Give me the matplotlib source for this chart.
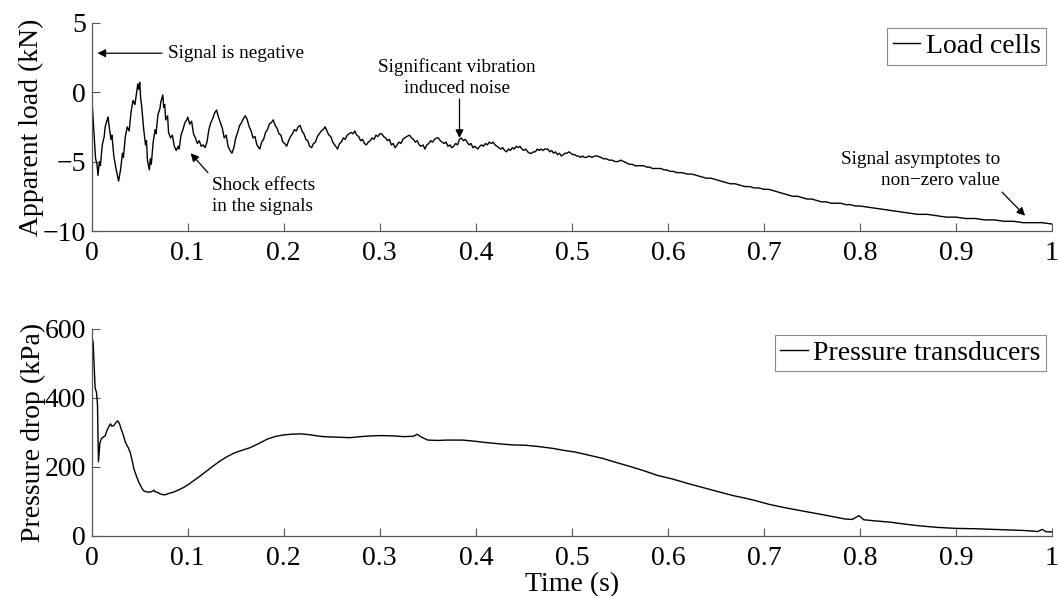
import matplotlib
matplotlib.use("Agg")
import matplotlib.pyplot as plt

plt.rcParams['font.family'] = ['Liberation Serif', 'DejaVu Serif']

# load cell trace, (time s, apparent load kN)
load_trace = [
    (0.000, -0.3), (0.002, -2.5), (0.004, -4.8), (0.0055, -5.2), (0.0065, -6.0), (0.008, -5.0),
    (0.009, -5.3), (0.011, -3.8), (0.013, -3.2), (0.014, -2.5), (0.016, -2.0), (0.017, -1.8),
    (0.018, -2.4), (0.020, -3.4), (0.021, -3.1), (0.023, -4.6), (0.025, -5.4), (0.027, -6.1),
    (0.028, -6.4), (0.030, -5.6), (0.032, -4.4), (0.033, -4.7), (0.035, -3.2), (0.037, -2.5),
    (0.039, -2.8), (0.041, -1.4), (0.043, -0.6), (0.045, -0.9), (0.047, 0.1), (0.048, 0.6),
    (0.049, 0.2), (0.050, 0.7), (0.051, -0.5), (0.052, -1.0), (0.054, -2.6), (0.056, -3.8),
    (0.057, -3.5), (0.058, -4.9), (0.060, -5.6), (0.061, -4.8), (0.062, -5.2), (0.064, -3.6),
    (0.066, -2.7), (0.067, -3.0), (0.069, -1.6), (0.071, -1.2), (0.072, -0.7), (0.074, -0.2),
    (0.075, -1.1), (0.076, -0.9), (0.077, -2.0), (0.079, -1.7), (0.080, -2.9), (0.082, -3.3),
    (0.084, -3.1), (0.086, -3.9), (0.088, -4.2), (0.090, -3.9), (0.091, -4.1), (0.093, -3.1),
    (0.095, -2.7), (0.097, -2.2), (0.099, -2.0), (0.100, -1.8), (0.102, -2.3), (0.104, -2.1),
    (0.106, -3.0), (0.108, -3.3), (0.110, -3.7), (0.112, -3.5), (0.114, -3.9), (0.116, -3.8),
    (0.118, -4.0), (0.120, -3.6), (0.122, -2.7), (0.124, -2.2), (0.126, -1.9), (0.128, -1.5),
    (0.130, -1.3), (0.132, -1.8), (0.134, -2.2), (0.136, -2.6), (0.138, -3.3), (0.140, -3.1),
    (0.142, -3.9), (0.144, -4.2), (0.146, -4.4), (0.148, -4.0), (0.150, -3.3), (0.152, -2.9),
    (0.154, -2.4), (0.156, -2.2), (0.158, -1.9), (0.160, -1.7), (0.162, -2.0), (0.164, -2.5),
    (0.166, -2.8), (0.168, -3.3), (0.170, -3.2), (0.172, -3.8), (0.174, -4.0), (0.175, -4.1),
    (0.177, -3.6), (0.179, -3.4), (0.181, -2.9), (0.183, -2.7), (0.185, -2.3), (0.187, -2.2),
    (0.189, -2.0), (0.191, -2.4), (0.193, -2.6), (0.195, -3.0), (0.197, -3.1), (0.199, -3.6),
    (0.201, -3.7), (0.203, -3.9), (0.205, -3.5), (0.207, -3.2), (0.209, -3.0), (0.211, -2.7),
    (0.213, -2.8), (0.215, -2.5), (0.217, -2.4), (0.219, -2.8), (0.221, -3.0), (0.223, -3.4),
    (0.225, -3.5), (0.227, -3.9), (0.229, -4.0), (0.231, -3.7), (0.233, -3.6), (0.235, -3.2),
    (0.237, -3.0), (0.239, -2.8), (0.241, -2.7), (0.243, -2.5), (0.245, -2.8), (0.247, -3.1),
    (0.249, -3.2), (0.251, -3.6), (0.253, -3.8), (0.256, -4.1), (0.258, -3.7), (0.260, -3.6),
    (0.262, -3.3), (0.264, -3.4), (0.266, -3.1), (0.268, -3.0), (0.270, -2.9), (0.272, -3.0),
    (0.274, -2.8), (0.276, -3.1), (0.278, -3.2), (0.280, -3.5), (0.282, -3.4), (0.284, -3.7),
    (0.286, -3.8), (0.288, -3.6), (0.290, -3.5), (0.292, -3.3), (0.294, -3.4), (0.296, -3.1),
    (0.298, -3.2), (0.300, -3.0), (0.302, -3.0), (0.304, -3.2), (0.306, -3.3), (0.308, -3.5),
    (0.310, -3.4), (0.312, -3.8), (0.314, -3.7), (0.316, -4.0), (0.318, -3.8), (0.320, -3.6),
    (0.322, -3.7), (0.324, -3.4), (0.326, -3.3), (0.328, -3.2), (0.331, -3.1), (0.333, -3.3),
    (0.335, -3.4), (0.337, -3.6), (0.339, -3.5), (0.341, -3.8), (0.343, -3.9), (0.345, -3.8),
    (0.347, -4.1), (0.349, -3.8), (0.351, -3.7), (0.353, -3.5), (0.355, -3.6), (0.357, -3.4),
    (0.359, -3.3), (0.361, -3.3), (0.363, -3.5), (0.365, -3.6), (0.367, -3.7), (0.369, -3.6),
    (0.371, -3.9), (0.373, -3.8), (0.375, -4.0), (0.377, -3.9), (0.379, -3.7), (0.381, -3.8),
    (0.383, -3.4), (0.385, -3.3), (0.387, -3.5), (0.389, -3.4), (0.391, -3.6), (0.393, -3.8),
    (0.395, -3.7), (0.397, -4.0), (0.399, -3.9), (0.402, -4.1), (0.404, -3.9), (0.406, -3.8),
    (0.408, -3.9), (0.410, -3.7), (0.412, -3.8), (0.414, -3.6), (0.416, -3.7), (0.418, -3.6),
    (0.420, -3.8), (0.422, -3.9), (0.424, -4.0), (0.426, -4.1), (0.428, -4.0), (0.430, -4.2),
    (0.432, -4.3), (0.434, -4.1), (0.436, -4.2), (0.438, -4.0), (0.440, -4.1), (0.442, -3.9),
    (0.444, -4.0), (0.446, -3.9), (0.448, -4.1), (0.450, -4.2), (0.452, -4.1), (0.454, -4.3),
    (0.456, -4.4), (0.458, -4.4), (0.460, -4.3), (0.462, -4.3), (0.464, -4.1), (0.466, -4.2),
    (0.468, -4.1), (0.470, -4.2), (0.472, -4.1), (0.475, -4.1), (0.477, -4.3), (0.479, -4.2),
    (0.481, -4.4), (0.483, -4.3), (0.485, -4.5), (0.487, -4.4), (0.489, -4.6), (0.491, -4.5),
    (0.493, -4.4), (0.495, -4.4), (0.497, -4.3), (0.499, -4.4), (0.501, -4.5), (0.503, -4.5),
    (0.505, -4.6), (0.507, -4.6), (0.509, -4.7), (0.511, -4.6), (0.513, -4.7), (0.515, -4.7),
    (0.518, -4.6), (0.521, -4.7), (0.524, -4.6), (0.527, -4.6), (0.530, -4.7), (0.533, -4.8),
    (0.536, -4.8), (0.539, -4.9), (0.542, -4.9), (0.545, -5.0), (0.548, -5.0), (0.551, -4.9),
    (0.554, -5.0), (0.557, -5.1), (0.560, -5.2), (0.563, -5.2), (0.566, -5.3), (0.569, -5.3),
    (0.572, -5.3), (0.575, -5.3), (0.578, -5.4), (0.581, -5.4), (0.584, -5.5), (0.587, -5.5),
    (0.590, -5.5), (0.593, -5.5), (0.596, -5.6), (0.599, -5.6), (0.602, -5.7), (0.605, -5.7),
    (0.610, -5.8), (0.615, -5.8), (0.620, -5.9), (0.625, -5.9), (0.630, -6.0), (0.635, -6.1),
    (0.640, -6.2), (0.645, -6.2), (0.650, -6.3), (0.655, -6.4), (0.660, -6.5), (0.665, -6.6),
    (0.670, -6.6), (0.675, -6.7), (0.680, -6.8), (0.685, -6.8), (0.690, -6.9), (0.695, -6.9),
    (0.700, -7.0), (0.705, -7.0), (0.710, -7.1), (0.715, -7.2), (0.720, -7.3), (0.725, -7.4),
    (0.730, -7.5), (0.735, -7.5), (0.740, -7.6), (0.745, -7.7), (0.750, -7.7), (0.755, -7.8),
    (0.760, -7.9), (0.765, -7.9), (0.770, -8.0), (0.775, -8.0), (0.780, -8.0), (0.785, -8.1),
    (0.790, -8.1), (0.795, -8.2), (0.800, -8.2), (0.810, -8.3), (0.820, -8.4), (0.830, -8.5),
    (0.840, -8.6), (0.850, -8.7), (0.860, -8.8), (0.870, -8.8), (0.880, -8.9), (0.890, -9.0),
    (0.900, -9.0), (0.910, -9.1), (0.920, -9.1), (0.930, -9.2), (0.940, -9.2), (0.950, -9.3),
    (0.960, -9.3), (0.970, -9.4), (0.980, -9.4), (0.990, -9.4), (1.000, -9.5),
]

# pressure transducer trace, (time s, pressure drop kPa)
pressure_trace = [
    (0.000, 580), (0.0015, 560), (0.0035, 430), (0.005, 415), (0.006, 380), (0.007, 215),
    (0.0085, 270), (0.010, 282), (0.012, 287), (0.014, 290), (0.016, 307), (0.018, 318),
    (0.0195, 325), (0.021, 318), (0.023, 320), (0.025, 328), (0.027, 334), (0.029, 325),
    (0.030, 315), (0.033, 292), (0.035, 272), (0.038, 256), (0.040, 243), (0.042, 220),
    (0.044, 194), (0.047, 170), (0.049, 156), (0.052, 140), (0.054, 131), (0.057, 128),
    (0.059, 127), (0.062, 128), (0.064, 131), (0.065, 133), (0.066, 128), (0.069, 126),
    (0.071, 122), (0.074, 120), (0.076, 119), (0.080, 123), (0.085, 127), (0.090, 133),
    (0.096, 141), (0.101, 150), (0.106, 160), (0.113, 174), (0.120, 189), (0.127, 204),
    (0.134, 218), (0.141, 230), (0.148, 240), (0.155, 247), (0.165, 256), (0.174, 268),
    (0.183, 281), (0.192, 289), (0.200, 293), (0.208, 295), (0.217, 296), (0.222, 295),
    (0.228, 293), (0.235, 290), (0.241, 288), (0.250, 287), (0.260, 286), (0.269, 285),
    (0.280, 288), (0.290, 290), (0.302, 291), (0.315, 290), (0.325, 288), (0.335, 289),
    (0.339, 295), (0.343, 287), (0.350, 278), (0.360, 277), (0.370, 278), (0.386, 278),
    (0.398, 275), (0.410, 271), (0.425, 267), (0.438, 264), (0.452, 263), (0.466, 259),
    (0.480, 254), (0.492, 248), (0.504, 243), (0.518, 234), (0.532, 225), (0.545, 214),
    (0.560, 202), (0.574, 190), (0.590, 175), (0.605, 165), (0.621, 152), (0.637, 140),
    (0.653, 128), (0.668, 117), (0.680, 110), (0.692, 102), (0.705, 92), (0.720, 83),
    (0.739, 73), (0.755, 65), (0.770, 57), (0.785, 49), (0.792, 48), (0.799, 59),
    (0.804, 47), (0.815, 44), (0.832, 40), (0.845, 35), (0.860, 30), (0.880, 25),
    (0.900, 22), (0.920, 21), (0.950, 18), (0.970, 16), (0.985, 13), (0.990, 19),
    (0.994, 12), (1.000, 12),
]

x_ticks = [0, 0.1, 0.2, 0.3, 0.4, 0.5, 0.6, 0.7, 0.8, 0.9, 1]
x_tick_labels = ["0", "0.1", "0.2", "0.3", "0.4", "0.5", "0.6", "0.7", "0.8", "0.9", "1"]
load_ticks = [-10, -5, 0, 5]
pressure_ticks = [0, 200, 400, 600]

load_t = [p[0] for p in load_trace]
load_kn = [p[1] for p in load_trace]
press_t = [p[0] for p in pressure_trace]
press_kpa = [p[1] for p in pressure_trace]

fig = plt.figure(figsize=(10.58, 5.96), dpi=100)
ax1 = fig.add_axes([0.0867, 0.6124, 0.9076, 0.3496])
ax2 = fig.add_axes([0.0867, 0.1007, 0.9076, 0.3473])


def style_axis(ax):
    for side in ["top", "right"]:
        ax.spines[side].set_visible(False)
    for side in ["left", "bottom"]:
        ax.spines[side].set_color("0.35")
        ax.spines[side].set_linewidth(0.9)
    ax.tick_params(direction="in", length=6, width=0.8, color="0.35", labelsize=20)
    ax.tick_params(axis="x", pad=7)
    ax.tick_params(axis="y", pad=4)
    ax.set_xlim(0, 1)
    ax.set_xticks(x_ticks)
    ax.set_xticklabels(x_tick_labels)


def add_legend(ax):
    leg = ax.legend(loc="upper right", fontsize=20, handlelength=1.0, handletextpad=0.2,
                    borderpad=0.2, borderaxespad=0.2, fancybox=False, framealpha=1)
    leg.get_frame().set_edgecolor("0.55")
    leg.get_frame().set_linewidth(0.8)


ax1.plot(load_t, load_kn, color="black", lw=1.0, label="Load cells")
style_axis(ax1)
ax1.set_ylim(-10, 5)
ax1.set_yticks(load_ticks)
ax1.set_ylabel("Apparent load (kN)", fontsize=20, labelpad=-1)
add_legend(ax1)

note_size = 13.8
arrow = dict(arrowstyle="-|>", color="black", lw=0.9, mutation_scale=12, shrinkA=0, shrinkB=0)
ax1.annotate("Signal is negative", xy=(0.006, 2.8), xytext=(0.079, 2.8),
             fontsize=note_size, ha="left", va="center",
             arrowprops=dict(arrow, shrinkA=2))
ax1.text(0.380, 1.05, "Significant vibration\ninduced noise", fontsize=note_size,
         ha="center", va="center", linespacing=1.3)
ax1.annotate("", xy=(0.383, -3.3), xytext=(0.383, -0.5), arrowprops=arrow)
ax1.annotate("", xy=(0.103, -4.4), xytext=(0.121, -5.8), arrowprops=arrow)
ax1.text(0.125, -7.5, "Shock effects\nin the signals", fontsize=note_size, ha="left",
         va="center", linespacing=1.3)
ax1.annotate("", xy=(0.972, -8.9), xytext=(0.948, -7.2), arrowprops=arrow)
ax1.text(0.946, -5.6, "Signal asymptotes to\nnon\u2212zero value", fontsize=note_size,
         ha="right", va="center", linespacing=1.25)

ax2.plot(press_t, press_kpa, color="black", lw=1.0, label="Pressure transducers")
style_axis(ax2)
ax2.set_ylim(0, 600)
ax2.set_yticks(pressure_ticks)
ax2.set_ylabel("Pressure drop (kPa)", fontsize=20, labelpad=-1)
ax2.set_xlabel("Time (s)", fontsize=20, labelpad=1)
add_legend(ax2)

fig.savefig("out.png", dpi=100)
